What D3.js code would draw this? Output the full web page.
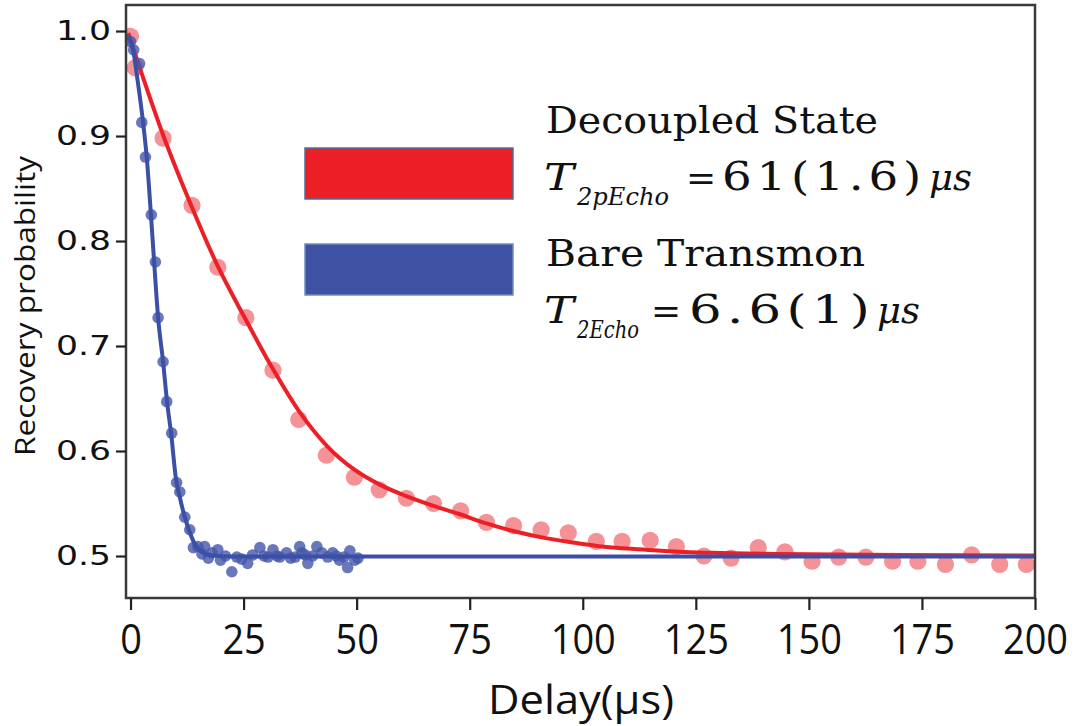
<!DOCTYPE html>
<html><head><meta charset="utf-8">
<script src="https://cdn.jsdelivr.net/npm/d3@7"></script>
<style>body{margin:0;background:#fff} svg{display:block}</style>
</head><body><svg id="c" width="1078" height="726"></svg>
<script>
// ---- data ----
const redX = [0, 1, 7.2, 13.6, 19.3, 25.5, 31.5, 37.2, 43.3, 49.5, 55, 61, 67, 73, 78.7, 84.7, 90.8, 96.8, 103, 108.7, 114.9, 120.7, 126.8, 132.8, 138.8, 144.7, 150.7, 156.6, 162.6, 168.5, 174.1, 180.2, 186, 192.2, 198.1];
const redY = [0.995, 0.965, 0.898, 0.834, 0.775, 0.727, 0.677, 0.630, 0.596, 0.575, 0.563, 0.555, 0.550, 0.543, 0.532, 0.529, 0.525, 0.522, 0.514, 0.514, 0.515, 0.509, 0.500, 0.498, 0.508, 0.504, 0.495, 0.499, 0.499, 0.495, 0.495, 0.492, 0.501, 0.492, 0.492];

const blueX = [0, 0.7, 2.0, 2.5, 3.3, 4.6, 5.5, 6.1, 7.2, 8.0, 9.1, 10.2, 10.9, 12.0, 13.1, 13.9, 14.9, 15.8, 16.4, 17.2, 18.0, 19.3, 19.9, 21.0, 22.4, 23.5, 24.6, 25.9, 27.0, 28.6, 29.5, 30.4, 31.5, 32.4, 33.0, 34.5, 35.4, 36.4, 37.4, 37.9, 38.6, 39.2, 40.3, 41.2, 42.3, 43.6, 44.7, 45.5, 46.2, 47.2, 48.0, 48.5, 49.6, 50.3];
const blueY = [0.990, 0.982, 0.969, 0.913, 0.880, 0.825, 0.780, 0.727, 0.685, 0.647, 0.617, 0.570, 0.561, 0.537, 0.525, 0.508, 0.509, 0.502, 0.509, 0.498, 0.503, 0.506, 0.496, 0.500, 0.485, 0.499, 0.497, 0.493, 0.501, 0.508, 0.500, 0.499, 0.506, 0.500, 0.499, 0.503, 0.498, 0.499, 0.509, 0.503, 0.501, 0.493, 0.500, 0.509, 0.503, 0.499, 0.503, 0.500, 0.496, 0.499, 0.489, 0.505, 0.496, 0.498];

const redFitX = [-0.5, 7.2, 13.6, 19.3, 25.5, 31.5, 37.4, 43.4, 49.6, 55.1, 61, 66.8, 72.7, 78.7, 84.4, 91.8, 99.2, 106.5, 114, 121.3, 128.6, 143, 170, 200];
const redFitY = [0.998, 0.901, 0.832, 0.776, 0.725, 0.678, 0.637, 0.605, 0.582, 0.568, 0.557, 0.548, 0.540, 0.531, 0.524, 0.517, 0.512, 0.508, 0.506, 0.504, 0.503, 0.502, 0.501, 0.5005];

const blueFitX = [-0.5, 0.5, 1.6, 2.8, 3.6, 4.5, 5.3, 6.1, 7.2, 8.1, 9.0, 10.0, 10.9, 12.0, 13.5, 14.9, 17.5, 22.7, 200];
const blueFitY = [0.995, 0.983, 0.952, 0.912, 0.879, 0.826, 0.775, 0.727, 0.685, 0.646, 0.616, 0.575, 0.556, 0.537, 0.518, 0.507, 0.501, 0.4995, 0.4995];

const xTicks = [0, 25, 50, 75, 100, 125, 150, 175, 200];
const yTicks = [0.5, 0.6, 0.7, 0.8, 0.9, 1.0];
const legendNames = ["Decoupled State", "Bare Transmon"];
const legendSub = ["2pEcho", "2Echo"];
const legendVal = ["61(1.6)", "6.6(1)"];
const xLabel = "Delay(μs)";
const yLabel = "Recovery probability";

// ---- drawing ----
const svg = d3.select("#c");
const x = d3.scaleLinear().domain([-1, 200]).range([126, 1035]);
const y = d3.scaleLinear().domain([0.46, 1.0248]).range([598, 5]);

svg.append("defs").append("clipPath").attr("id", "clip")
  .append("rect").attr("x", 126).attr("y", 5).attr("width", 909).attr("height", 593);

const plot = svg.append("g").attr("clip-path", "url(#clip)");
const RED = "#ec1f26", BLUE = "#3c4fa6";

const line = d3.line().x(d => x(d[0])).y(d => y(d[1])).curve(d3.curveMonotoneX);

plot.selectAll("circle.r").data(d3.zip(redX, redY)).join("circle")
  .attr("class", "r").attr("cx", d => x(d[0])).attr("cy", d => y(d[1]))
  .attr("r", 8.6).attr("fill", "#ef5f65").attr("fill-opacity", 0.68);

plot.append("path").datum(d3.zip(redFitX, redFitY)).attr("d", line)
  .attr("fill", "none").attr("stroke", RED).attr("stroke-width", 4);

plot.selectAll("circle.b").data(d3.zip(blueX, blueY)).join("circle")
  .attr("class", "b").attr("cx", d => x(d[0])).attr("cy", d => y(d[1]))
  .attr("r", 5.8).attr("fill", "#4456aa").attr("fill-opacity", 0.8);

plot.append("path").datum(d3.zip(blueFitX, blueFitY)).attr("d", line)
  .attr("fill", "none").attr("stroke", BLUE).attr("stroke-width", 4);

// frame
svg.append("rect").attr("x", 126).attr("y", 5).attr("width", 909).attr("height", 593)
  .attr("fill", "none").attr("stroke", "#3a3a3a").attr("stroke-width", 2.5);

// y axis
const gy = svg.append("g").attr("transform", "translate(126,0)")
  .call(d3.axisLeft(y).tickValues(yTicks).tickSize(10).tickPadding(5).tickFormat(d3.format(".1f")));
gy.select(".domain").remove();
gy.selectAll("line").attr("stroke", "#222").attr("stroke-width", 2.2);
gy.selectAll("text").attr("font-family", "DejaVu Sans").attr("font-size", 27).attr("fill", "#111")
  .attr("textLength", 55).attr("lengthAdjust", "spacingAndGlyphs");

// x axis
const gx = svg.append("g").attr("transform", "translate(0,598)")
  .call(d3.axisBottom(x).tickValues(xTicks).tickSize(12).tickPadding(14));
gx.select(".domain").remove();
gx.selectAll("line").attr("stroke", "#222").attr("stroke-width", 2.2);
gx.selectAll("text").attr("font-family", "Open Sans").attr("font-size", 42).attr("fill", "#111")
  .attr("textLength", d => String(d).length * 21.7).attr("lengthAdjust", "spacingAndGlyphs");

// axis titles
svg.append("text").attr("x", 581).attr("y", 714).attr("text-anchor", "middle")
  .attr("font-family", "Open Sans").attr("font-size", 40).attr("fill", "#111")
  .attr("textLength", 186).attr("lengthAdjust", "spacingAndGlyphs").text(xLabel);
svg.append("text").attr("transform", "translate(35,306) rotate(-90)").attr("text-anchor", "middle")
  .attr("font-family", "Open Sans").attr("font-size", 27).attr("fill", "#111")
  .attr("textLength", 300).attr("lengthAdjust", "spacingAndGlyphs").text(yLabel);

// legend
const legFill = [RED, "#3f51a2"];
const legStroke = ["#4d6f9e", "#6f8fc4"];
const rectY = [148, 244];
const nameY = [133, 266];
const mathY = [190, 323];
const subW = [92, 62];
const eqX = [686, 651];
const valX = [722, 689];
const valW = [204, 186];
const muX = [929, 877];
const nameW = [332, 319];
legendNames.forEach((n, i) => {
  svg.append("rect").attr("x", 305).attr("y", rectY[i]).attr("width", 208).attr("height", 51)
    .attr("fill", legFill[i]).attr("stroke", legStroke[i]).attr("stroke-width", 1.5);
  const f = "DejaVu Serif";
  svg.append("text").attr("x", 546).attr("y", nameY[i]).attr("font-family", f).attr("font-size", 37)
    .attr("fill", "#111").attr("textLength", nameW[i]).attr("lengthAdjust", "spacingAndGlyphs").text(n);
  svg.append("text").attr("x", 544).attr("y", mathY[i]).attr("font-family", f).attr("font-size", 38)
    .attr("font-style", "italic").attr("fill", "#111").attr("textLength", 30).attr("lengthAdjust", "spacingAndGlyphs").text("T");
  svg.append("text").attr("x", 577).attr("y", mathY[i] + 15).attr("font-family", f).attr("font-size", 25)
    .attr("font-style", "italic").attr("fill", "#111").attr("textLength", subW[i]).attr("lengthAdjust", "spacingAndGlyphs").text(legendSub[i]);
  svg.append("text").attr("x", eqX[i]).attr("y", mathY[i]).attr("font-family", f).attr("font-size", 36)
    .attr("fill", "#111").text("=");
  svg.append("text").attr("x", valX[i]).attr("y", mathY[i]).attr("font-family", f).attr("font-size", 39)
    .attr("letter-spacing", 4)
    .attr("fill", "#111").attr("textLength", valW[i]).attr("lengthAdjust", "spacingAndGlyphs").text(legendVal[i]);
  svg.append("text").attr("x", muX[i]).attr("y", mathY[i]).attr("font-family", f).attr("font-size", 37)
    .attr("font-style", "italic").attr("fill", "#111").attr("textLength", 43).attr("lengthAdjust", "spacingAndGlyphs").text("μs");
});
</script></body></html>
